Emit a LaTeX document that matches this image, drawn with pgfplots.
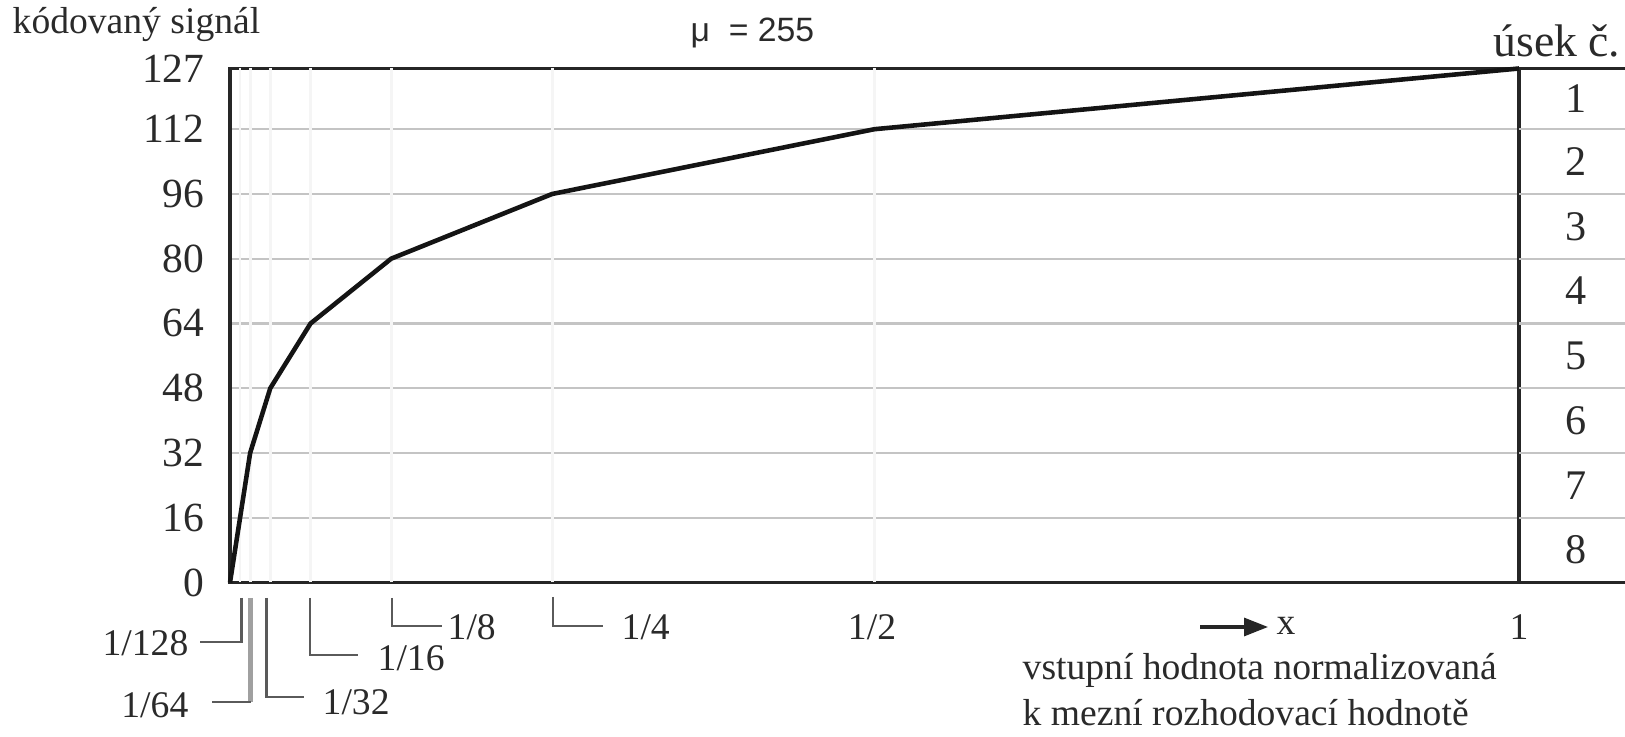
\documentclass[border=0pt]{standalone}
\usepackage{fontspec}
\setmainfont{Liberation Serif}
\newfontfamily\arialf{Liberation Sans}
\usepackage{pgfplots}
\pgfplotsset{compat=1.18}
\usetikzlibrary{arrows.meta}
\definecolor{gridc}{HTML}{C4C4C4}
\definecolor{txt}{HTML}{2A2A2A}
\definecolor{lead}{HTML}{5A5A5A}
\definecolor{leadl}{HTML}{A0A0A0}
\begin{document}
\begin{tikzpicture}
\useasboundingbox (0,0) rectangle (162.5mm,73.7mm);
\begin{axis}[
  at={(23mm,15.45mm)}, anchor=south west,
  scale only axis, width=128.9mm, height=51.4mm,
  xmin=0, xmax=1, ymin=0, ymax=127,
  xtick=\empty,
  ytick={0,16,32,48,64,80,96,112,127},
  major tick length=0pt,
  ymajorgrids, grid style={gridc, line width=0.65pt},
  axis line style={black!85, line width=1pt},
  yticklabel style={anchor=east, inner sep=0pt, xshift=-2.5mm, font=\fontsize{11.8}{14}\selectfont, text=txt},
  /pgf/number format/assume math mode=true,
  clip=false,
]
\pgfplotsinvokeforeach{0.0078125,0.015625,0.03125,0.0625,0.125,0.25,0.5}{
  \draw[black!4, line width=0.8pt] (axis cs:#1,0) -- (axis cs:#1,127);
}
\pgfplotsinvokeforeach{16,32,48,64,80,96,112}{
  \draw[gridc, line width=0.65pt] (axis cs:1,#1) -- ++(10.6mm,0);
}
\draw[black!85, line width=1pt] (axis cs:1,127) -- ++(10.6mm,0);
\draw[black!85, line width=1pt] (axis cs:1,0) -- ++(10.6mm,0);
\addplot[black!92, line width=1.3pt, line join=round] coordinates {
  (0,0) (0.0078125,16) (0.015625,32) (0.03125,48) (0.0625,64)
  (0.125,80) (0.25,96) (0.5,112) (1,127)
};
\node[xshift=5.7mm, text=txt, font=\fontsize{12}{14}\selectfont] at (axis cs:1,119.5) {1};
\node[xshift=5.7mm, text=txt, font=\fontsize{12}{14}\selectfont] at (axis cs:1,104) {2};
\node[xshift=5.7mm, text=txt, font=\fontsize{12}{14}\selectfont] at (axis cs:1,88) {3};
\node[xshift=5.7mm, text=txt, font=\fontsize{12}{14}\selectfont] at (axis cs:1,72) {4};
\node[xshift=5.7mm, text=txt, font=\fontsize{12}{14}\selectfont] at (axis cs:1,56) {5};
\node[xshift=5.7mm, text=txt, font=\fontsize{12}{14}\selectfont] at (axis cs:1,40) {6};
\node[xshift=5.7mm, text=txt, font=\fontsize{12}{14}\selectfont] at (axis cs:1,24) {7};
\node[xshift=5.7mm, text=txt, font=\fontsize{12}{14}\selectfont] at (axis cs:1,8) {8};
\end{axis}
\begin{scope}[x=0.1mm, y=-0.1mm, shift={(0,73.7mm)}]
\tikzset{lbl/.style={text=txt, inner sep=0pt, font=\fontsize{10.7}{13}\selectfont}}
\node[lbl, anchor=base west] at (12,34) {kódovaný signál};
\node[text=txt, inner sep=0pt, anchor=base west, font=\arialf\fontsize{9.6}{12}\selectfont] at (690,42) {μ\ \ = 255};
\node[text=txt, inner sep=0pt, anchor=base east, font=\fontsize{13}{15}\selectfont] at (1621,57) {úsek č.};
% leader lines
\draw[lead, line width=0.75pt] (241.7,598) -- (241.7,642) -- (200,642);
\draw[leadl, line width=1.4pt] (250.7,598) -- (250.7,702);
\draw[lead, line width=0.75pt] (250.7,702) -- (211.7,702);
\draw[lead, line width=0.75pt] (266.7,598) -- (266.7,697) -- (304,697);
\draw[lead, line width=0.75pt] (310,598) -- (310,655) -- (358,655);
\draw[lead, line width=0.75pt] (392,598) -- (392,626) -- (441.7,626);
\draw[lead, line width=0.75pt] (553,597) -- (553,626) -- (603,626);
\node[lbl, anchor=east] at (189,643) {1/128};
\node[lbl, anchor=east] at (189,705) {1/64};
\node[lbl, anchor=west] at (322,702) {1/32};
\node[lbl, anchor=west] at (377,658) {1/16};
\node[lbl, anchor=west] at (447,627) {1/8};
\node[lbl, anchor=west] at (621,627) {1/4};
\node[lbl] at (872,627) {1/2};
\node[lbl] at (1519,627) {1};
\draw[black!85, line width=0.9pt, -{Triangle[length=2.4mm,width=1.8mm]}] (1200,627) -- (1268,627);
\node[lbl, anchor=west] at (1276,626) {x};
\node[lbl, anchor=base west] at (1022,680) {vstupní hodnota normalizovaná};
\node[lbl, anchor=base west] at (1022,726) {k mezní rozhodovací hodnotě};
\end{scope}
\end{tikzpicture}
\end{document}
